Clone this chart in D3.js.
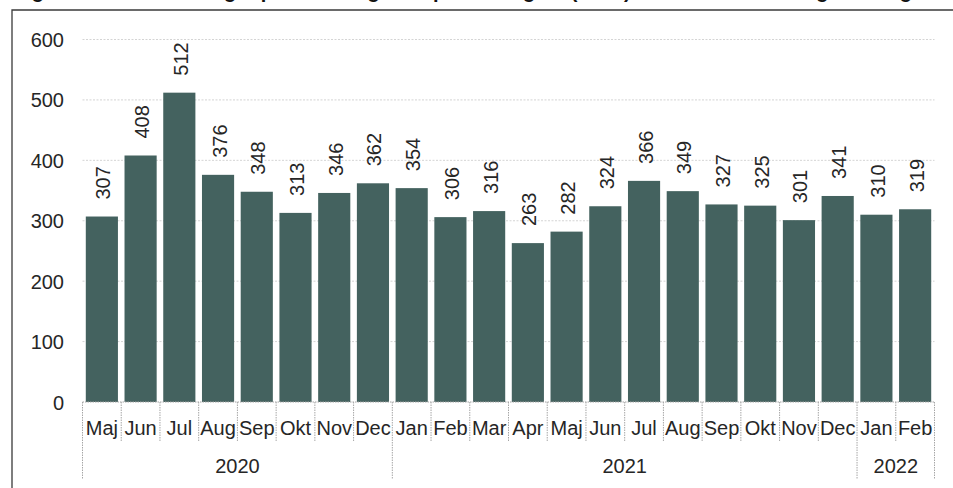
<!DOCTYPE html>
<html>
<head>
<meta charset="utf-8">
<script src="https://cdn.jsdelivr.net/npm/d3@7/dist/d3.min.js"></script>
<style>
  html, body { margin: 0; padding: 0; background: #fff; overflow: hidden; }
  svg { display: block; font-family: "Liberation Sans", Arial, sans-serif; }
</style>
</head>
<body>
<svg id="chart" width="953" height="488"></svg>
<script>
// ---- data ----
const months = ["Maj","Jun","Jul","Aug","Sep","Okt","Nov","Dec",
                "Jan","Feb","Mar","Apr","Maj","Jun","Jul","Aug","Sep","Okt","Nov","Dec",
                "Jan","Feb"];
const values = [307,408,512,376,348,313,346,362,
                354,306,316,263,282,324,366,349,327,325,301,341,
                310,319];
const years = ["2020","2021","2022"];
const yearCounts = [8, 12, 2];
const yTicks = [0,100,200,300,400,500,600];
const titleText = "Figur 1: Handlede boliger pr. år i alt og total pr. den region (antal) – totalt sæsonkorrigerede og samlede tal";

// ---- layout ----
(function () {
const svg = d3.select("#chart");
const plotLeft = 82.5, plotRight = 934.5, plotTop = 39.5, plotBottom = 402;
const barColor = "#44625f";
const textColor = "#262626";

// title (clipped at the top of the page, only descenders visible)
svg.append("text")
  .attr("x", 14).attr("y", -1.6)
  .attr("font-size", 20).attr("font-weight", "bold")
  .attr("fill", "#111")
  .text(titleText);

// frame
svg.append("path")
  .attr("d", `M12,490 V10 H960`)
  .attr("fill", "none").attr("stroke", "#3a3a3a").attr("stroke-width", 1.3);

const idx = d3.range(values.length);
const x = d3.scaleBand().domain(idx).range([plotLeft, plotRight])
  .paddingInner(0.17).paddingOuter(0.085);
const y = d3.scaleLinear().domain([0, 600]).range([plotBottom, plotTop]);

// gridlines
svg.append("g").selectAll("line")
  .data(yTicks.filter(d => d > 0))
  .join("line")
  .attr("x1", plotLeft).attr("x2", plotRight)
  .attr("y1", d => y(d)).attr("y2", d => y(d))
  .attr("stroke", "#d4d4d4").attr("stroke-width", 1)
  .attr("stroke-dasharray", "2,1.5");

// y axis labels
const yAxis = d3.axisLeft(y).tickValues(yTicks).tickSize(0).tickPadding(0);
const ya = svg.append("g").attr("transform", `translate(64,0)`).call(yAxis);
ya.select(".domain").remove();
ya.selectAll("text")
  .attr("font-size", 20).attr("fill", textColor)
  .attr("font-family", "'Liberation Sans', Arial, sans-serif")
  .attr("dy", "0.35em");

// bars
svg.append("g").selectAll("rect")
  .data(values)
  .join("rect")
  .attr("x", (d, i) => x(i))
  .attr("width", x.bandwidth())
  .attr("y", d => y(d))
  .attr("height", d => y(0) - y(d))
  .attr("fill", barColor);

// value labels (rotated)
svg.append("g").selectAll("text")
  .data(values)
  .join("text")
  .attr("transform", (d, i) => `translate(${x(i) + x.bandwidth() / 2 + 1.5},${y(d) - 17}) rotate(-90)`)
  .attr("dy", "0.35em")
  .attr("font-size", 20).attr("fill", textColor)
  .attr("text-anchor", "start")
  .text(d => d);

// category axis line
svg.append("line")
  .attr("x1", plotLeft).attr("x2", plotRight)
  .attr("y1", plotBottom).attr("y2", plotBottom)
  .attr("stroke", "#a6a6a6").attr("stroke-dasharray", "1.5,1");

// boundaries
const gap = x.step() - x.bandwidth();
const boundary = i => (i < values.length ? x(i) - gap / 2 : x(values.length - 1) + x.bandwidth() + gap / 2);
const yearStarts = [0];
yearCounts.forEach((c, k) => yearStarts.push(yearStarts[k] + c));
const bIdx = d3.range(values.length + 1);
svg.append("g").selectAll("line")
  .data(bIdx)
  .join("line")
  .attr("x1", i => boundary(i)).attr("x2", i => boundary(i))
  .attr("y1", plotBottom)
  .attr("y2", i => yearStarts.includes(i) ? 479 : 441)
  .attr("stroke", "#a6a6a6").attr("stroke-dasharray", "1.5,1");

// month labels
svg.append("g").selectAll("text")
  .data(months)
  .join("text")
  .attr("x", (d, i) => x(i) + x.bandwidth() / 2)
  .attr("y", 435)
  .attr("text-anchor", "middle")
  .attr("font-size", 20).attr("fill", textColor)
  .text(d => d);

// year labels
svg.append("g").selectAll("text")
  .data(years)
  .join("text")
  .attr("x", (d, k) => (boundary(yearStarts[k]) + boundary(yearStarts[k + 1])) / 2)
  .attr("y", 473)
  .attr("text-anchor", "middle")
  .attr("font-size", 20).attr("fill", textColor)
  .text(d => d);
})();
</script>
</body>
</html>
